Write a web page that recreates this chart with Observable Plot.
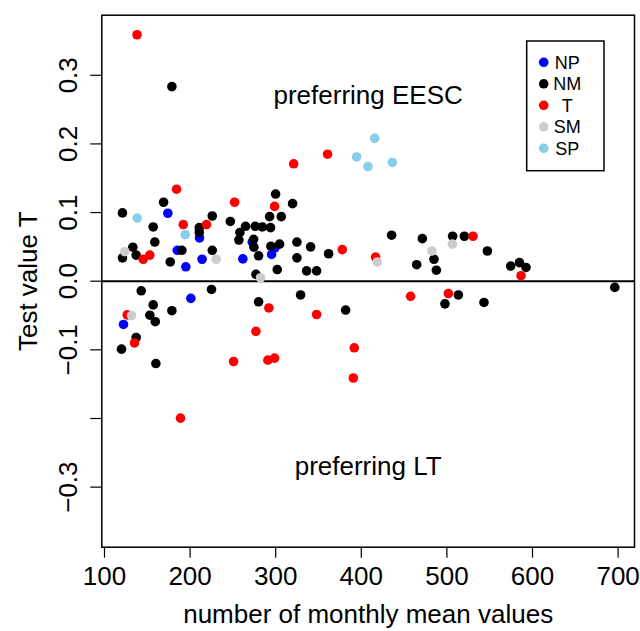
<!DOCTYPE html>
<html><head><meta charset="utf-8">
<script src="https://cdn.jsdelivr.net/npm/d3@7"></script>
<script src="https://cdn.jsdelivr.net/npm/@observablehq/plot@0.6"></script>
<style>body{margin:0;background:#fff;} #chart{width:640px;height:631px;}</style>
</head><body><div id="chart"></div>
<script>
const categories = ["NP", "NM", "T", "SM", "SP"];
const colors = ["#0000FF", "#000000", "#FF0000", "#CCCCCC", "#87CEEB"];

const npX = [174, 185, 195, 211, 214, 261.6, 272.6, 295.2, 299, 200.9, 122.2];
const npY = [0.099, 0.045, 0.021, 0.063, 0.032, 0.0325, 0.057, 0.039, 0.0485, -0.025, -0.063];

const nmX = [178.7, 169, 299.9, 319.7, 121, 225.9, 247, 292.9, 306.5, 156.9, 210.7, 210.7, 264.8, 276.1, 284.3, 294, 258.2, 257, 274.2, 158.8, 274.5, 294.4, 304.5, 324.8, 340.8, 361.8, 324.8, 301.8, 336.1, 347.8, 276.9, 133.1, 137, 121, 176.8, 190.4, 225.9, 280, 142.9, 225, 156.9, 178.7, 280, 329.1, 381.7, 153, 159.3, 137, 119.9, 160, 435.4, 471.3, 506.7, 520.4, 484.9, 547.3, 464.7, 487.7, 574.5, 584.7, 592.4, 696.1, 513.4, 497.7, 543.3];
const nmY = [0.2835, 0.115, 0.127, 0.113, 0.0995, 0.095, 0.087, 0.094, 0.094, 0.079, 0.078, 0.071, 0.080, 0.080, 0.079, 0.078, 0.071, 0.060, 0.061, 0.057, 0.0495, 0.051, 0.054, 0.057, 0.050, 0.040, 0.034, 0.017, 0.015, 0.015, 0.010, 0.0495, 0.038, 0.034, 0.028, 0.045, 0.045, 0.037, -0.014, -0.012, -0.0345, -0.043, -0.030, -0.020, -0.042, -0.0495, -0.059, -0.082, -0.099, -0.120, 0.067, 0.062, 0.0655, 0.0655, 0.032, 0.044, 0.024, 0.016, 0.022, 0.027, 0.020, -0.009, -0.020, -0.033, -0.031];

const tX = [138, 321, 360.6, 184.2, 252, 298.7, 192, 219.2, 377.8, 153, 145.2, 292, 347.8, 126.5, 135.1, 188.8, 276.9, 250.8, 290.9, 298.7, 391.8, 390.7, 530.5, 416.7, 586.6, 457.6, 501.7];
const tY = [0.359, 0.171, 0.185, 0.134, 0.115, 0.109, 0.0825, 0.0825, 0.046, 0.038, 0.032, -0.039, -0.0485, -0.049, -0.090, -0.1995, -0.073, -0.117, -0.115, -0.112, -0.097, -0.141, 0.0655, 0.035, 0.008, -0.022, -0.018];

const smX = [123.7, 230.5, 282.3, 131.6, 506.4, 482.5, 418.7];
const smY = [0.043, 0.032, 0.005, -0.050, 0.054, 0.044, 0.028];

const spX = [415.6, 407.8, 394.5, 436.2, 138.2, 194.3];
const spY = [0.208, 0.167, 0.181, 0.173, 0.092, 0.068];

const xTicks = [100, 200, 300, 400, 500, 600, 700];
const yTicks = [-0.3, -0.2, -0.1, 0, 0.1, 0.2, 0.3];
const yTickLabels = ["−0.3", "", "−0.1", "0.0", "0.1", "0.2", "0.3"];
const annotations = ["preferring EESC", "preferring LT"];
const annotX = [408, 408];
const annotY = [0.27, -0.27];
const xTitle = "number of monthly mean values";
const yTitle = "Test value T";

const seriesX = [npX, nmX, tX, smX, spX];
const seriesY = [npY, nmY, tY, smY, spY];
const rows = categories.flatMap((c, i) => seriesX[i].map((x, j) => ({cat: c, x, y: seriesY[i][j]})));

const FONT = "'Liberation Sans', Arial, Helvetica, sans-serif";
const W = 640, H = 631;
const mL = 101.3, mR = 6, mT = 14.7, mB = 84.3;
const R = 4.8;

const plot = Plot.plot({
  width: W, height: H,
  marginLeft: mL, marginRight: mR, marginTop: mT, marginBottom: mB,
  style: {fontFamily: FONT, fontSize: "26px", background: "white", color: "black"},
  x: {domain: [96.85, 719.15]},
  y: {domain: [-0.3875, 0.3875]},
  color: {domain: categories, range: colors},
  marks: [
    Plot.axisX({ticks: xTicks, tickSize: 11, tickPadding: 8, tickFormat: d => String(d), label: null, fontSize: 26, strokeWidth: 1.2}),
    Plot.axisY({ticks: yTicks, tickSize: 11, tickFormat: () => "", label: null, strokeWidth: 1.2}),
    Plot.text(yTicks, {y: d => d, text: (d, i) => yTickLabels[i], frameAnchor: "left", dx: -25, rotate: -90, lineAnchor: "bottom", textAnchor: "middle", fontSize: 26}),
    Plot.text([yTitle], {frameAnchor: "left", dx: -65, rotate: -90, lineAnchor: "bottom", textAnchor: "middle", fontSize: 26}),
    Plot.text([xTitle], {frameAnchor: "bottom", dy: 76, lineAnchor: "bottom", fontSize: 26}),
    Plot.ruleY([0], {stroke: "black", strokeWidth: 2}),
    Plot.dot(rows, {x: "x", y: "y", fill: "cat", r: R}),
    Plot.text(annotations, {x: (d, i) => annotX[i], y: (d, i) => annotY[i], text: d => d, fontSize: 26}),
    Plot.frame({stroke: "black", strokeWidth: 1.5})
  ]
});

// legend inside the plot area (top-right), like R's legend("topright", inset)
const svg = d3.select(plot);
const lgW = 77.3, lgH = 129.7, lgRight = W - mR - 30, lgTop = mT + 26.3;
const lg = svg.append("g").attr("font-family", FONT).attr("font-size", 18);
lg.append("rect").attr("x", lgRight - lgW).attr("y", lgTop).attr("width", lgW).attr("height", lgH)
  .attr("fill", "white").attr("stroke", "black").attr("stroke-width", 1.5);
categories.forEach((c, i) => {
  const cy = lgTop + 21.3 + i * 21.5;
  lg.append("circle").attr("cx", lgRight - lgW + 17).attr("cy", cy).attr("r", R).attr("fill", colors[i]);
  lg.append("text").attr("x", lgRight - lgW + 40.6).attr("y", cy).attr("dy", "0.35em").attr("fill", "black").text(c);
});

document.getElementById("chart").appendChild(plot);
</script>
</body></html>
